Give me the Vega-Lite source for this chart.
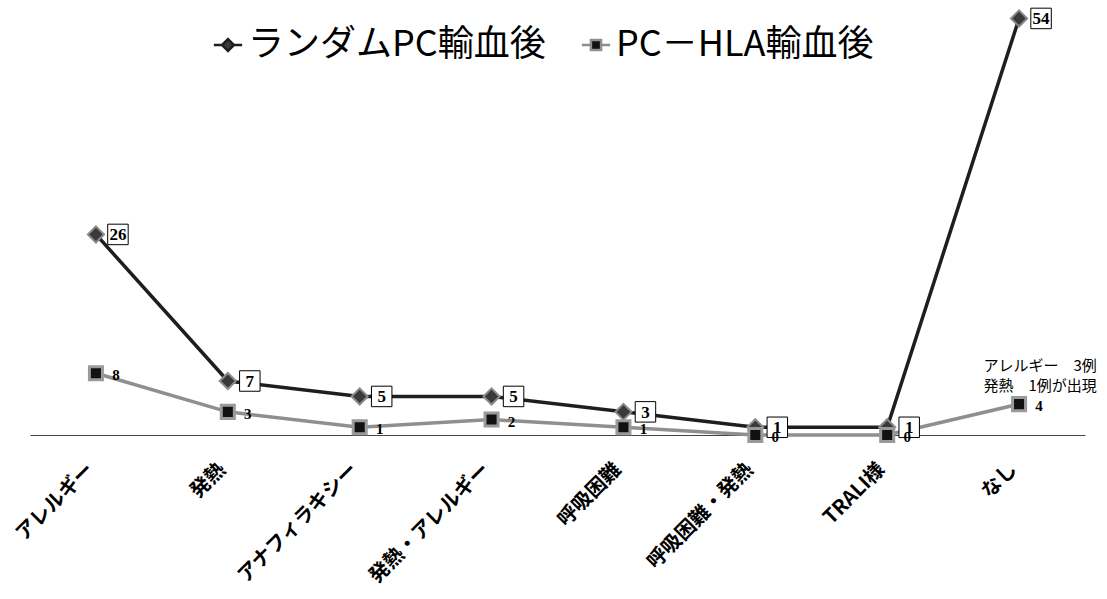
{
  "$schema": "https://vega.github.io/schema/vega-lite/v6.json",
  "autosize": {"type": "none"},
  "width": 1055,
  "height": 432,
  "padding": {"left": 30, "top": 3, "right": 22, "bottom": 164},
  "background": "white",
  "config": {"view": {"stroke": null}},
  "datasets": {
    "main": [
      {"category": "アレルギー", "series": "ランダムPC輸血後", "value": 26},
      {"category": "発熱", "series": "ランダムPC輸血後", "value": 7},
      {"category": "アナフィラキシー", "series": "ランダムPC輸血後", "value": 5},
      {"category": "発熱・アレルギー", "series": "ランダムPC輸血後", "value": 5},
      {"category": "呼吸困難", "series": "ランダムPC輸血後", "value": 3},
      {"category": "呼吸困難・発熱", "series": "ランダムPC輸血後", "value": 1},
      {"category": "TRALI様", "series": "ランダムPC輸血後", "value": 1},
      {"category": "なし", "series": "ランダムPC輸血後", "value": 54},
      {"category": "アレルギー", "series": "PC－HLA輸血後", "value": 8},
      {"category": "発熱", "series": "PC－HLA輸血後", "value": 3},
      {"category": "アナフィラキシー", "series": "PC－HLA輸血後", "value": 1},
      {"category": "発熱・アレルギー", "series": "PC－HLA輸血後", "value": 2},
      {"category": "呼吸困難", "series": "PC－HLA輸血後", "value": 1},
      {"category": "呼吸困難・発熱", "series": "PC－HLA輸血後", "value": 0},
      {"category": "TRALI様", "series": "PC－HLA輸血後", "value": 0},
      {"category": "なし", "series": "PC－HLA輸血後", "value": 4}
    ],
    "note": [
      {"category": "なし", "value": 4, "text": ["アレルギー　3例", "発熱　1例が出現"]}
    ]
  },
  "encoding": {
    "x": {
      "field": "category",
      "type": "nominal",
      "sort": ["アレルギー", "発熱", "アナフィラキシー", "発熱・アレルギー", "呼吸困難", "呼吸困難・発熱", "TRALI様", "なし"],
      "scale": {"type": "point", "padding": 0.5},
      "axis": {
        "title": null,
        "labelAngle": -45,
        "labelFont": "Noto Sans CJK JP",
        "labelFontSize": 20,
        "labelFontWeight": "bold",
        "labelColor": "#000",
        "labelPadding": 24,
        "labelOffset": -13,
        "ticks": false,
        "grid": false,
        "domainColor": "#444",
        "domainWidth": 1
      }
    },
    "y": {
      "field": "value",
      "type": "quantitative",
      "scale": {"domain": [0, 56], "nice": false},
      "axis": null
    }
  },
  "layer": [
    {
      "data": {"name": "main"},
      "transform": [{"filter": "datum.series === 'PC－HLA輸血後'"}],
      "mark": {"type": "line", "strokeWidth": 3.5, "color": "#8f8f8f"}
    },
    {
      "data": {"name": "main"},
      "transform": [{"filter": "datum.series === 'ランダムPC輸血後'"}],
      "mark": {"type": "line", "strokeWidth": 3.5, "color": "#1e1e1e"}
    },
    {
      "data": {"name": "main"},
      "transform": [{"filter": "datum.series === 'ランダムPC輸血後'"}],
      "mark": {"type": "point", "shape": "diamond", "size": 260, "filled": true, "fill": "#3a3a3a", "stroke": "#8a8a8a", "strokeWidth": 2, "opacity": 1}
    },
    {
      "data": {"name": "main"},
      "transform": [{"filter": "datum.series === 'PC－HLA輸血後'"}],
      "mark": {"type": "point", "shape": "square", "size": 170, "filled": true, "fill": "#111", "stroke": "#9a9a9a", "strokeWidth": 3, "opacity": 1}
    },
    {
      "data": {"name": "main"},
      "transform": [{"filter": "datum.series === 'ランダムPC輸血後'"}],
      "mark": {"type": "point", "shape": "square", "size": 420, "xOffset": 22, "filled": true, "fill": "white", "stroke": "#000", "strokeWidth": 1, "opacity": 1}
    },
    {
      "data": {"name": "main"},
      "transform": [{"filter": "datum.series === 'ランダムPC輸血後'"}],
      "mark": {"type": "text", "dx": 22, "dy": 1, "font": "Liberation Serif", "fontWeight": "bold", "fontSize": 17, "align": "center", "baseline": "middle", "color": "#000"},
      "encoding": {"text": {"field": "value", "type": "quantitative"}}
    },
    {
      "data": {"name": "main"},
      "transform": [{"filter": "datum.series === 'PC－HLA輸血後'"}],
      "mark": {"type": "text", "dx": 20, "dy": 2, "font": "Liberation Serif", "fontWeight": "bold", "fontSize": 15, "align": "center", "baseline": "middle", "color": "#000"},
      "encoding": {"text": {"field": "value", "type": "quantitative"}}
    },
    {
      "data": {"name": "note"},
      "mark": {"type": "text", "dx": 21, "dy": -38, "font": "Noto Sans CJK JP", "fontSize": 15, "lineHeight": 20, "align": "center", "baseline": "middle", "color": "#000"},
      "encoding": {"text": {"field": "text"}}
    },
    {
      "data": {"name": "main"},
      "mark": {"type": "point", "filled": true, "opacity": 0, "strokeWidth": 2.5},
      "encoding": {
        "fill": {
          "field": "series",
          "type": "nominal",
          "scale": {"domain": ["ランダムPC輸血後", "PC－HLA輸血後"], "range": ["#3a3a3a", "#111111"]}
        },
        "stroke": {
          "field": "series",
          "type": "nominal",
          "scale": {"domain": ["ランダムPC輸血後", "PC－HLA輸血後"], "range": ["#1e1e1e", "#8f8f8f"]}
        },
        "shape": {
          "field": "series",
          "type": "nominal",
          "scale": {
            "domain": ["ランダムPC輸血後", "PC－HLA輸血後"],
            "range": [
              "M-1,0L-0.42,0M0.42,0L1,0M0,-0.42L0.42,0L0,0.42L-0.42,0Z",
              "M-1,0L-0.36,0M0.36,0L1,0M-0.36,-0.36L0.36,-0.36L0.36,0.36L-0.36,0.36Z"
            ]
          },
          "legend": {
            "title": null,
            "orient": "none",
            "legendX": 180,
            "legendY": 24,
            "direction": "horizontal",
            "columns": 2,
            "columnPadding": 30,
            "symbolSize": 800,
            "symbolStrokeWidth": 2.5,
            "symbolOpacity": 1,
            "labelOffset": 2,
            "labelFont": "Noto Sans CJK JP",
            "labelFontSize": 36,
            "labelColor": "#000",
            "labelLimit": 400
          }
        }
      }
    }
  ]
}
